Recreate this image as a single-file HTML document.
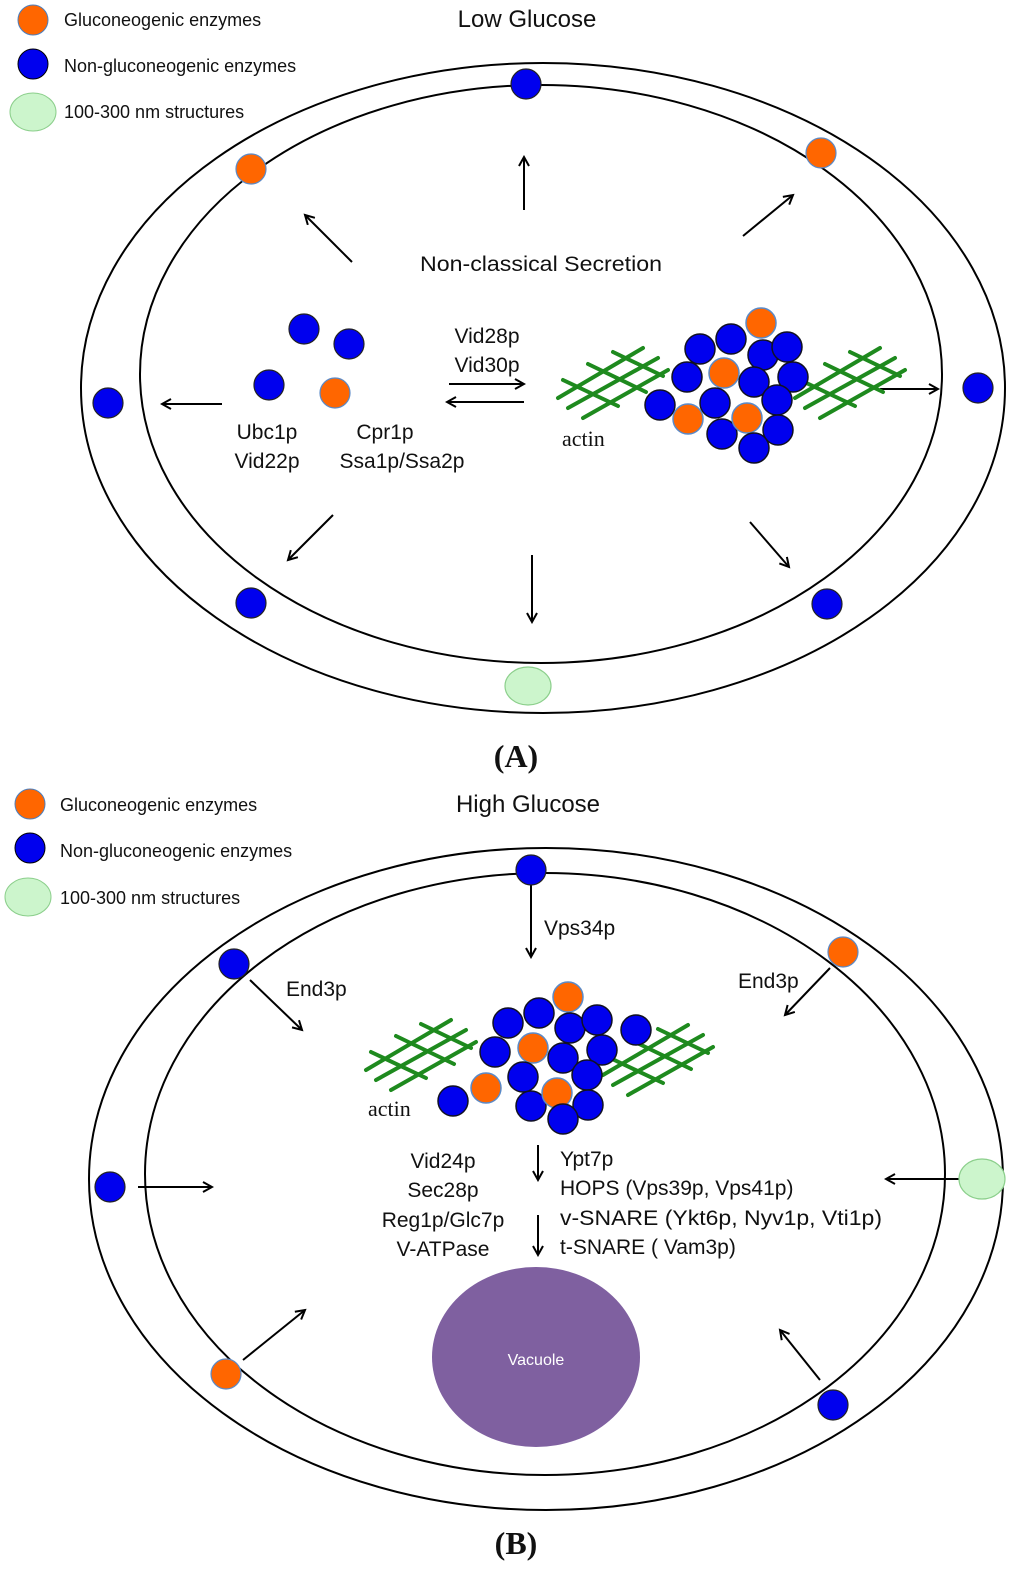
<!DOCTYPE html>
<html><head><meta charset="utf-8"><style>
html,body{margin:0;padding:0;background:#fff;}
svg{display:block}
.t{font-family:"Liberation Sans","DejaVu Sans",sans-serif;fill:#111;}
.s{font-family:"Liberation Serif",serif;fill:#111;}
</style></head><body>
<svg width="1024" height="1579" viewBox="0 0 1024 1579" xmlns="http://www.w3.org/2000/svg">
<defs>
<marker id="ah" markerWidth="12" markerHeight="12" refX="10" refY="6" orient="auto" markerUnits="userSpaceOnUse">
<path d="M1,1 L10,6 L1,11" fill="none" stroke="#000" stroke-width="2"/>
</marker>
<g id="grid" stroke="#1e8a1e" stroke-width="4" stroke-linecap="round">
<line x1="0" y1="50" x2="85" y2="0"/>
<line x1="10" y1="60" x2="100" y2="10"/>
<line x1="25" y1="70" x2="110" y2="22"/>
<line x1="5" y1="32" x2="60" y2="58"/>
<line x1="30" y1="16" x2="88" y2="44"/>
<line x1="55" y1="4" x2="105" y2="28"/>
</g>
</defs>
<g fill="none" stroke="#000" stroke-width="2">
<ellipse cx="543" cy="388" rx="462" ry="325"/>
<ellipse cx="541" cy="374" rx="401" ry="289"/>
<ellipse cx="546" cy="1179" rx="457" ry="331"/>
<ellipse cx="545" cy="1174" rx="400" ry="301"/>
</g>
<g stroke="#4a7fc0" stroke-width="1">
<circle cx="33" cy="20" r="15" fill="#ff6600"/>
<circle cx="33" cy="64" r="15" fill="#0000ee" stroke="#000"/>
<ellipse cx="33" cy="112" rx="23" ry="19" fill="#ccf5cc" stroke="#8ccf8c"/>
<circle cx="30" cy="804" r="15" fill="#ff6600"/>
<circle cx="30" cy="848" r="15" fill="#0000ee" stroke="#000"/>
<ellipse cx="28" cy="897" rx="23" ry="19" fill="#ccf5cc" stroke="#8ccf8c"/>
</g>
<g class="t" font-size="18">
<text x="64" y="26">Gluconeogenic enzymes</text>
<text x="64" y="72">Non-gluconeogenic enzymes</text>
<text x="64" y="118">100-300 nm structures</text>
<text x="60" y="811">Gluconeogenic enzymes</text>
<text x="60" y="857">Non-gluconeogenic enzymes</text>
<text x="60" y="904">100-300 nm structures</text>
</g>
<text class="t" x="527" y="27" font-size="24" text-anchor="middle">Low Glucose</text>
<text class="t" x="528" y="812" font-size="24" text-anchor="middle">High Glucose</text>
<text class="s" x="516" y="767" font-size="32" font-weight="bold" text-anchor="middle">(A)</text>
<text class="s" x="516" y="1554" font-size="32" font-weight="bold" text-anchor="middle">(B)</text>

<g stroke="#000" stroke-width="2" marker-end="url(#ah)">
<line x1="524" y1="210" x2="524" y2="157"/>
<line x1="352" y1="262" x2="305" y2="215"/>
<line x1="743" y1="236" x2="793" y2="195"/>
<line x1="222" y1="404" x2="162" y2="404"/>
<line x1="880" y1="389" x2="938" y2="389"/>
<line x1="333" y1="515" x2="288" y2="560"/>
<line x1="532" y1="555" x2="532" y2="622"/>
<line x1="750" y1="522" x2="789" y2="567"/>
<line x1="449" y1="384" x2="524" y2="384"/>
<line x1="524" y1="402" x2="447" y2="402"/>
<line x1="531" y1="885" x2="531" y2="957"/>
<line x1="250" y1="980" x2="302" y2="1030"/>
<line x1="830" y1="968" x2="785" y2="1015"/>
<line x1="138" y1="1187" x2="212" y2="1187"/>
<line x1="985" y1="1179" x2="886" y2="1179"/>
<line x1="243" y1="1360" x2="305" y2="1310"/>
<line x1="820" y1="1380" x2="780" y2="1330"/>
<line x1="538" y1="1145" x2="538" y2="1180"/>
<line x1="538" y1="1215" x2="538" y2="1255"/>
</g>

<g class="t" font-size="21">
<text x="541" y="271" text-anchor="middle" textLength="242" lengthAdjust="spacingAndGlyphs">Non-classical Secretion</text>
<text x="487" y="343" text-anchor="middle">Vid28p</text>
<text x="487" y="372" text-anchor="middle">Vid30p</text>
<text x="267" y="439" text-anchor="middle">Ubc1p</text>
<text x="267" y="468" text-anchor="middle">Vid22p</text>
<text x="385" y="439" text-anchor="middle">Cpr1p</text>
<text x="402" y="468" text-anchor="middle">Ssa1p/Ssa2p</text>
<text x="544" y="935">Vps34p</text>
<text x="286" y="996">End3p</text>
<text x="738" y="988">End3p</text>
<text x="443" y="1168" text-anchor="middle">Vid24p</text>
<text x="443" y="1197" text-anchor="middle">Sec28p</text>
<text x="443" y="1227" text-anchor="middle">Reg1p/Glc7p</text>
<text x="443" y="1256" text-anchor="middle">V-ATPase</text>
<text x="560" y="1166">Ypt7p</text>
<text x="560" y="1195">HOPS (Vps39p, Vps41p)</text>
<text x="560" y="1225" textLength="322" lengthAdjust="spacingAndGlyphs">v-SNARE (Ykt6p, Nyv1p, Vti1p)</text>
<text x="560" y="1254">t-SNARE ( Vam3p)</text>
</g>
<text class="s" x="562" y="446" font-size="22">actin</text>
<text class="s" x="368" y="1116" font-size="22">actin</text>

<use href="#grid" x="558" y="348"/>
<use href="#grid" x="795" y="348"/>
<use href="#grid" x="366" y="1020"/>
<use href="#grid" x="603" y="1025"/>

<g stroke="#222" stroke-width="1.2">
<circle cx="526" cy="84" r="15" fill="#0000ee"/>
<circle cx="251" cy="169" r="15" fill="#ff6600" stroke="#5a8ac8"/>
<circle cx="821" cy="153" r="15" fill="#ff6600" stroke="#5a8ac8"/>
<circle cx="108" cy="403" r="15" fill="#0000ee"/>
<circle cx="978" cy="388" r="15" fill="#0000ee"/>
<circle cx="251" cy="603" r="15" fill="#0000ee"/>
<circle cx="827" cy="604" r="15" fill="#0000ee"/>
<ellipse cx="528" cy="686" rx="23" ry="19" fill="#ccf5cc" stroke="#8ccf8c"/>
<circle cx="304" cy="329" r="15" fill="#0000ee"/>
<circle cx="349" cy="344" r="15" fill="#0000ee"/>
<circle cx="269" cy="385" r="15" fill="#0000ee"/>
<circle cx="335" cy="393" r="15" fill="#ff6600" stroke="#5a8ac8"/>
<circle cx="531" cy="870" r="15" fill="#0000ee"/>
<circle cx="234" cy="964" r="15" fill="#0000ee"/>
<circle cx="843" cy="952" r="15" fill="#ff6600" stroke="#5a8ac8"/>
<circle cx="110" cy="1187" r="15" fill="#0000ee"/>
<ellipse cx="982" cy="1179" rx="23" ry="20" fill="#ccf5cc" stroke="#8ccf8c"/>
<circle cx="226" cy="1374" r="15" fill="#ff6600" stroke="#5a8ac8"/>
<circle cx="833" cy="1405" r="15" fill="#0000ee"/>
</g>

<g stroke="#112" stroke-width="1.5">
<circle cx="761" cy="323" r="15" fill="#ff6600" stroke="#5a8ac8"/>
<circle cx="731" cy="339" r="15" fill="#0000ee"/>
<circle cx="700" cy="349" r="15" fill="#0000ee"/>
<circle cx="763" cy="355" r="15" fill="#0000ee"/>
<circle cx="787" cy="347" r="15" fill="#0000ee"/>
<circle cx="687" cy="377" r="15" fill="#0000ee"/>
<circle cx="724" cy="373" r="15" fill="#ff6600" stroke="#5a8ac8"/>
<circle cx="793" cy="377" r="15" fill="#0000ee"/>
<circle cx="754" cy="382" r="15" fill="#0000ee"/>
<circle cx="660" cy="405" r="15" fill="#0000ee"/>
<circle cx="715" cy="403" r="15" fill="#0000ee"/>
<circle cx="777" cy="400" r="15" fill="#0000ee"/>
<circle cx="688" cy="419" r="15" fill="#ff6600" stroke="#5a8ac8"/>
<circle cx="722" cy="434" r="15" fill="#0000ee"/>
<circle cx="778" cy="430" r="15" fill="#0000ee"/>
<circle cx="747" cy="418" r="15" fill="#ff6600" stroke="#5a8ac8"/>
<circle cx="754" cy="448" r="15" fill="#0000ee"/>
</g>
<g stroke="#112" stroke-width="1.5">
<circle cx="568" cy="997" r="15" fill="#ff6600" stroke="#5a8ac8"/>
<circle cx="539" cy="1013" r="15" fill="#0000ee"/>
<circle cx="508" cy="1023" r="15" fill="#0000ee"/>
<circle cx="570" cy="1028" r="15" fill="#0000ee"/>
<circle cx="597" cy="1020" r="15" fill="#0000ee"/>
<circle cx="636" cy="1030" r="15" fill="#0000ee"/>
<circle cx="495" cy="1052" r="15" fill="#0000ee"/>
<circle cx="533" cy="1048" r="15" fill="#ff6600" stroke="#5a8ac8"/>
<circle cx="602" cy="1050" r="15" fill="#0000ee"/>
<circle cx="563" cy="1058" r="15" fill="#0000ee"/>
<circle cx="523" cy="1077" r="15" fill="#0000ee"/>
<circle cx="587" cy="1075" r="15" fill="#0000ee"/>
<circle cx="453" cy="1101" r="15" fill="#0000ee"/>
<circle cx="486" cy="1088" r="15" fill="#ff6600" stroke="#5a8ac8"/>
<circle cx="531" cy="1106" r="15" fill="#0000ee"/>
<circle cx="588" cy="1105" r="15" fill="#0000ee"/>
<circle cx="557" cy="1093" r="15" fill="#ff6600" stroke="#5a8ac8"/>
<circle cx="563" cy="1119" r="15" fill="#0000ee"/>
</g>

<ellipse cx="536" cy="1357" rx="104" ry="90" fill="#7f60a0"/>
<text x="536" y="1365" font-family="Liberation Sans, sans-serif" font-size="16" fill="#fff" text-anchor="middle">Vacuole</text>
</svg>
</body></html>
